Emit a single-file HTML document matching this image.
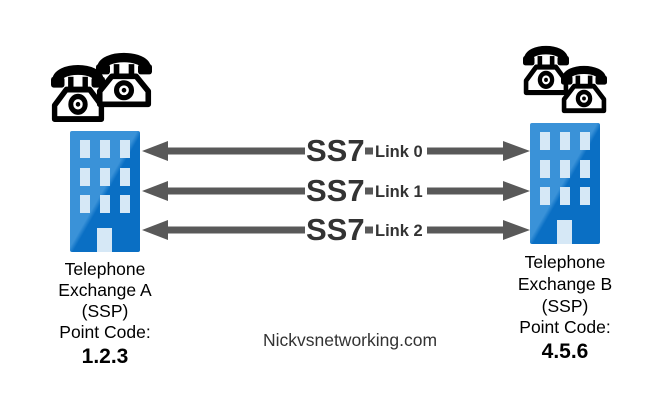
<!DOCTYPE html>
<html><head><meta charset="utf-8"><style>
html,body{margin:0;padding:0;background:#fff;}
body{width:670px;height:411px;overflow:hidden;position:relative;}
svg{position:absolute;left:0;top:0;}
</style></head><body>
<svg width="670" height="411" viewBox="0 0 670 411" xmlns="http://www.w3.org/2000/svg">
<defs>
<symbol id="ph" viewBox="0 0 60 60" preserveAspectRatio="none">
<path d="M6,18 C6,2 54,2 54,18" fill="none" stroke="#000" stroke-width="10"/>
<rect x="0" y="13" width="15" height="11" rx="3" fill="#000"/>
<rect x="45" y="13" width="15" height="11" rx="3" fill="#000"/>
<rect x="19" y="13" width="6" height="14" fill="#000"/>
<rect x="35" y="13" width="6" height="14" fill="#000"/>
<path d="M17,26 L43,26 L56,42 L56,56 L4,56 L4,42 Z" fill="#fff" stroke="#000" stroke-width="6" stroke-linejoin="round"/>
<circle cx="30" cy="41" r="8" fill="#fff" stroke="#000" stroke-width="5.5"/>
<circle cx="30" cy="41" r="2.5" fill="#000"/>
</symbol>
<linearGradient id="bg" x1="0" y1="0" x2="1" y2="1">
<stop offset="0" stop-color="#3a92d8"/><stop offset="0.48" stop-color="#3a92d8"/>
<stop offset="0.52" stop-color="#0a6fc4"/><stop offset="1" stop-color="#0a6fc4"/>
</linearGradient>
<g id="bld">
<rect x="0" y="0" width="70" height="121" rx="2" fill="url(#bg)"/>
<g fill="#d6e8f6">
<rect x="10" y="9" width="10" height="18"/><rect x="30" y="9" width="10" height="18"/><rect x="50" y="9" width="10" height="18"/>
<rect x="10" y="37" width="10" height="18"/><rect x="30" y="37" width="10" height="18"/><rect x="50" y="37" width="10" height="18"/>
<rect x="10" y="64" width="10" height="18"/><rect x="30" y="64" width="10" height="18"/><rect x="50" y="64" width="10" height="18"/>
<rect x="27" y="97" width="15" height="24"/>
</g>
</g>
</defs>

<use href="#ph" x="51" y="64" width="54" height="59"/>
<use href="#ph" x="96" y="52" width="56" height="56"/>
<use href="#ph" x="523" y="45" width="46" height="51"/>
<use href="#ph" x="561" y="65" width="46" height="49"/>

<use href="#bld" x="70" y="131"/>
<use href="#bld" x="530" y="123"/>

<g fill="#595959">
<g id="row">
<polygon points="142,151 168,141 168,161"/>
<rect x="166" y="147.5" width="139" height="7"/>
<rect x="365" y="147.5" width="8" height="7"/>
<rect x="427" y="147.5" width="78" height="7"/>
<polygon points="530,151 503,141 503,161"/>
</g>
<use href="#row" y="40"/>
<use href="#row" y="79"/>
</g>

<g font-family="Liberation Sans, sans-serif" font-weight="bold" fill="#333">
<text x="306" y="161" font-size="31">SS7</text>
<text x="306" y="201" font-size="31">SS7</text>
<text x="306" y="240" font-size="31">SS7</text>
<text x="375" y="157" font-size="16.5">Link 0</text>
<text x="375" y="197" font-size="16.5">Link 1</text>
<text x="375" y="236" font-size="16.5">Link 2</text>
</g>

<g font-family="Liberation Sans, sans-serif" font-size="17.5" fill="#000" text-anchor="middle">
<text x="105" y="275">Telephone</text>
<text x="105" y="296">Exchange A</text>
<text x="105" y="317">(SSP)</text>
<text x="105" y="338">Point Code:</text>
<text x="105" y="363" font-size="21" font-weight="bold">1.2.3</text>
<text x="565" y="268">Telephone</text>
<text x="565" y="290">Exchange B</text>
<text x="565" y="312">(SSP)</text>
<text x="565" y="333">Point Code:</text>
<text x="565" y="358" font-size="21" font-weight="bold">4.5.6</text>
<text x="350" y="346" fill="#333">Nickvsnetworking.com</text>
</g>
</svg>
</body></html>
